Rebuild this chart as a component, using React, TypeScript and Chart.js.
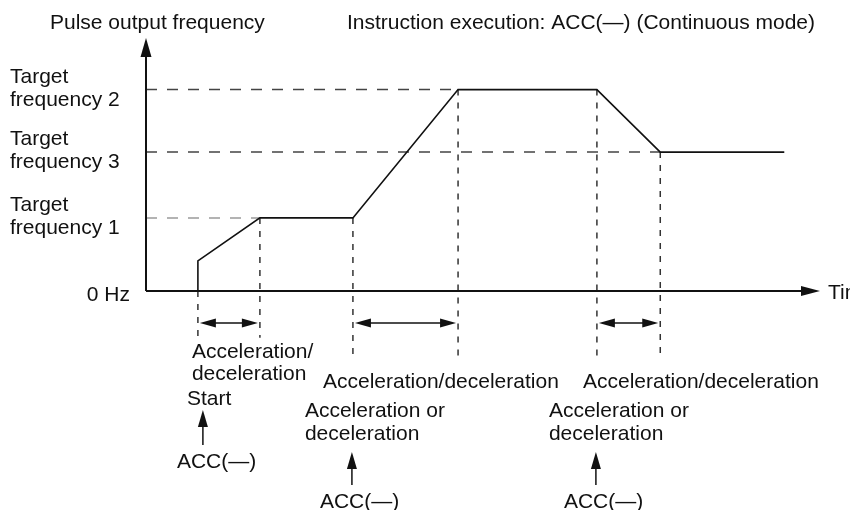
import React, { useEffect, useRef } from "react";
import { Chart, registerables } from "chart.js";

Chart.register(...registerables);

// ---- data (time in arbitrary units 0..100, frequency in arbitrary units 0..100) ----
const profileTime = [7.7, 7.7, 16.9, 30.7, 46.3, 66.9, 76.3, 94.7];
const profileFreq = [0, 11.9, 28.9, 28.9, 79.6, 79.6, 54.9, 54.9];

const targetTitles = ["Target", "Target", "Target"];
const targetSubtitles = ["frequency 1", "frequency 2", "frequency 3"];
const targetFreq = [28.9, 79.6, 54.9];
const targetReachTime = [16.9, 46.3, 76.3];

const eventTimes = [7.7, 16.9, 30.7, 46.3, 66.9, 76.3];
const eventFreq = [0, 28.9, 28.9, 79.6, 79.6, 54.9];
const guideBottom = [-18.5, -18.5, -26.5, -26.5, -26.5, -26.5];

const rampStart = [7.7, 30.7, 66.9];
const rampEnd = [16.9, 46.3, 76.3];

const yAxisTitle = "Pulse output frequency";
const xAxisTitle = "Time";
const zeroLabel = "0 Hz";
const headerText = "Instruction execution: ACC(\u2014) (Continuous mode)";
const accLabel = "ACC(\u2014)";

const FONT = '21px "Liberation Sans", Arial, Helvetica, sans-serif';
const INK = "#111";

function tri(ctx: CanvasRenderingContext2D, pts: number[][]) {
  ctx.beginPath();
  ctx.moveTo(pts[0][0], pts[0][1]);
  for (let i = 1; i < pts.length; i++) ctx.lineTo(pts[i][0], pts[i][1]);
  ctx.closePath();
  ctx.fill();
}

function upArrow(ctx: CanvasRenderingContext2D, x: number, tip: number, end: number) {
  ctx.beginPath();
  ctx.moveTo(x, tip + 10);
  ctx.lineTo(x, end);
  ctx.lineWidth = 1.5;
  ctx.stroke();
  tri(ctx, [
    [x, tip],
    [x - 5, tip + 17],
    [x + 5, tip + 17],
  ]);
}

const diagramPlugin = {
  id: "diagram",
  afterDraw(chart: any) {
    const ctx: CanvasRenderingContext2D = chart.ctx;
    const xs = chart.scales.x;
    const ys = chart.scales.y;
    const area = chart.chartArea;
    const x0 = xs.getPixelForValue(0);
    const yb = ys.getPixelForValue(0);
    ctx.save();
    ctx.strokeStyle = INK;
    ctx.fillStyle = INK;

    // axes
    ctx.lineWidth = 2;
    ctx.beginPath();
    ctx.moveTo(x0, yb);
    ctx.lineTo(x0, area.top + 12);
    ctx.moveTo(x0, yb);
    ctx.lineTo(area.right - 12, yb);
    ctx.stroke();
    tri(ctx, [
      [x0, area.top],
      [x0 - 5.5, area.top + 19],
      [x0 + 5.5, area.top + 19],
    ]);
    tri(ctx, [
      [area.right, yb],
      [area.right - 19, yb - 5],
      [area.right - 19, yb + 5],
    ]);

    // double arrows for ramp intervals
    const ay = yb + 32;
    for (let i = 0; i < rampStart.length; i++) {
      const a = xs.getPixelForValue(rampStart[i]) + 2;
      const b = xs.getPixelForValue(rampEnd[i]) - 2;
      ctx.lineWidth = 1.5;
      ctx.beginPath();
      ctx.moveTo(a + 8, ay);
      ctx.lineTo(b - 8, ay);
      ctx.stroke();
      tri(ctx, [
        [a, ay],
        [a + 16, ay - 4.5],
        [a + 16, ay + 4.5],
      ]);
      tri(ctx, [
        [b, ay],
        [b - 16, ay - 4.5],
        [b - 16, ay + 4.5],
      ]);
    }

    // texts
    ctx.font = FONT;
    ctx.textBaseline = "alphabetic";
    ctx.textAlign = "left";
    ctx.fillText(yAxisTitle, 50, 29);
    ctx.fillText(headerText, 347, 29);
    ctx.fillText(xAxisTitle, area.right + 8, yb + 8);
    ctx.textAlign = "right";
    ctx.fillText(zeroLabel, x0 - 16, yb + 10);
    ctx.textAlign = "left";
    for (let i = 0; i < targetFreq.length; i++) {
      const y = ys.getPixelForValue(targetFreq[i]);
      ctx.fillText(targetTitles[i], 10, y - 7);
      ctx.fillText(targetSubtitles[i], 10, y + 16);
    }

    // start group
    const s = xs.getPixelForValue(eventTimes[0]);
    ctx.fillText("Acceleration/", s - 6, 358);
    ctx.fillText("deceleration", s - 6, 380);
    ctx.fillText("Start", s - 11, 405);
    upArrow(ctx, s + 5, 410, 445);
    ctx.fillText(accLabel, s - 21, 468);

    // middle and right groups
    const groups = [2, 4];
    const labelX = [323, 583];
    for (let g = 0; g < groups.length; g++) {
      const ex = xs.getPixelForValue(eventTimes[groups[g]]);
      ctx.fillText("Acceleration/deceleration", labelX[g], 388);
      ctx.fillText("Acceleration or", ex - 48, 417);
      ctx.fillText("deceleration", ex - 48, 440);
      upArrow(ctx, ex - 1, 452, 485);
      ctx.fillText(accLabel, ex - 33, 508);
    }
    ctx.restore();
  },
};

export default function App() {
  const ref = useRef<HTMLCanvasElement | null>(null);
  useEffect(() => {
    if (!ref.current) return;
    const datasets: any[] = [];
    datasets.push({
      data: profileTime.map((t, i) => ({ x: t, y: profileFreq[i] })),
      borderColor: INK,
      borderWidth: 1.6,
      pointRadius: 0,
      showLine: true,
      clip: false,
    });
    for (let i = 0; i < targetFreq.length; i++) {
      datasets.push({
        data: [
          { x: 0, y: targetFreq[i] },
          { x: targetReachTime[i], y: targetFreq[i] },
        ],
        borderColor: i === 0 ? "#9a9a9a" : "#444",
        borderWidth: 1.5,
        borderDash: [11, 10],
        pointRadius: 0,
        showLine: true,
        clip: false,
      });
    }
    for (let i = 0; i < eventTimes.length; i++) {
      datasets.push({
        data: [
          { x: eventTimes[i], y: eventFreq[i] },
          { x: eventTimes[i], y: guideBottom[i] },
        ],
        borderColor: "#333",
        borderWidth: 1.5,
        borderDash: [6, 7],
        pointRadius: 0,
        showLine: true,
        clip: false,
      });
    }
    const chart = new Chart(ref.current, {
      type: "scatter",
      data: { datasets },
      options: {
        responsive: false,
        animation: false,
        events: [],
        layout: { padding: { left: 146, right: 30, top: 38, bottom: 219 } },
        plugins: { legend: { display: false }, tooltip: { enabled: false } },
        scales: {
          x: { type: "linear", min: 0, max: 100, display: false },
          y: { type: "linear", min: 0, max: 100, display: false },
        },
      },
      plugins: [diagramPlugin],
    });
    return () => chart.destroy();
  }, []);
  return (
    <div style={{ position: "absolute", left: 0, top: 0, width: 850, height: 510, background: "#fff" }}>
      <canvas ref={ref} width={850} height={510} style={{ width: 850, height: 510 }} />
    </div>
  );
}
